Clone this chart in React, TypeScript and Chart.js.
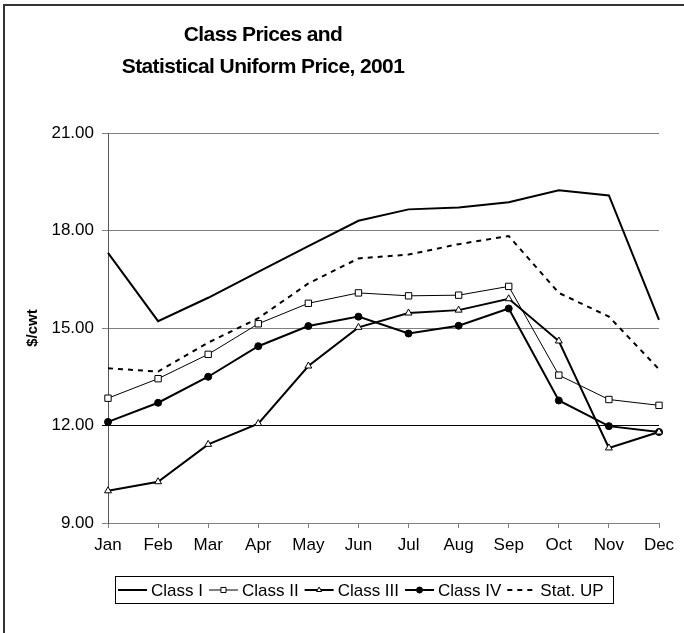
import React, { useEffect, useRef } from 'react';
import { Chart, registerables } from 'chart.js';

Chart.register(...registerables);

const FONT = '"Liberation Sans", Arial, sans-serif';

const titleLines = ['Class Prices and', 'Statistical Uniform Price, 2001'];
const yAxisTitle = '$/cwt';
const months = ['Jan', 'Feb', 'Mar', 'Apr', 'May', 'Jun', 'Jul', 'Aug', 'Sep', 'Oct', 'Nov', 'Dec'];
const yTicks = [9, 12, 15, 18, 21];

const classI = [17.31, 15.21, 15.93, 16.73, 17.52, 18.30, 18.65, 18.71, 18.87, 19.24, 19.08, 15.25];
const classII = [12.84, 13.44, 14.19, 15.13, 15.76, 16.08, 15.99, 16.01, 16.28, 13.55, 12.80, 12.62];
const classIII = [9.99, 10.27, 11.42, 12.06, 13.83, 15.02, 15.46, 15.55, 15.90, 14.60, 11.31, 11.80];
const classIV = [12.11, 12.70, 13.50, 14.44, 15.06, 15.35, 14.83, 15.07, 15.60, 12.77, 11.98, 11.80];
const statUP = [13.76, 13.66, 14.55, 15.30, 16.37, 17.14, 17.26, 17.58, 17.83, 16.08, 15.35, 13.73];

const seriesNames = ['Class I', 'Class II', 'Class III', 'Class IV', 'Stat. UP'];

function drawMarker(ctx: CanvasRenderingContext2D, style: string, x: number, y: number, r: number, fill: string) {
  ctx.save();
  ctx.setLineDash([]);
  ctx.lineWidth = 1;
  ctx.strokeStyle = '#000';
  ctx.fillStyle = fill;
  ctx.beginPath();
  if (style === 'rect') {
    const s = r * Math.SQRT1_2;
    ctx.rect(x - s, y - s, 2 * s, 2 * s);
  } else if (style === 'triangle') {
    ctx.moveTo(x, y - r);
    ctx.lineTo(x + r * 0.866, y + r * 0.5);
    ctx.lineTo(x - r * 0.866, y + r * 0.5);
    ctx.closePath();
  } else if (style === 'circle') {
    ctx.arc(x, y, r, 0, Math.PI * 2);
  }
  ctx.fill();
  ctx.stroke();
  ctx.restore();
}

const decorPlugin = {
  id: 'decor',
  afterDraw(chart: any) {
    const ctx: CanvasRenderingContext2D = chart.ctx;
    ctx.save();
    // outer frame (left and top edges visible)
    ctx.strokeStyle = '#333';
    ctx.lineWidth = 2;
    ctx.beginPath();
    ctx.moveTo(4, 700);
    ctx.lineTo(4, 5);
    ctx.lineTo(700, 5);
    ctx.stroke();

    // title
    ctx.fillStyle = '#000';
    ctx.font = 'bold 21px ' + FONT;
    (ctx as any).letterSpacing = '-0.6px';
    ctx.textAlign = 'center';
    ctx.textBaseline = 'middle';
    ctx.fillText(titleLines[0], 263, 35);
    ctx.fillText(titleLines[1], 263, 67);
    (ctx as any).letterSpacing = '0px';

    // legend
    const ly = 590;
    const bx = 115, bw = 498, by = 576, bh = 27;
    ctx.fillStyle = '#fff';
    ctx.fillRect(bx, by, bw, bh);
    ctx.strokeStyle = '#000';
    ctx.lineWidth = 1;
    ctx.strokeRect(bx + 0.5, by + 0.5, bw, bh);
    ctx.font = '17px ' + FONT;
    ctx.textAlign = 'left';
    ctx.textBaseline = 'middle';
    let x = 118;
    chart.data.datasets.forEach((ds: any) => {
      ctx.save();
      ctx.strokeStyle = '#000';
      ctx.lineWidth = ds.borderWidth;
      ctx.setLineDash(ds.borderDash || []);
      ctx.beginPath();
      ctx.moveTo(x, ly);
      ctx.lineTo(x + 29, ly);
      ctx.stroke();
      ctx.restore();
      if (ds.pointRadius > 0) {
        drawMarker(ctx, ds.pointStyle, x + 14.5, ly, ds.pointStyle === 'rect' ? 3.6 : 3, ds.pointBackgroundColor);
      }
      x += 33;
      ctx.fillStyle = '#000';
      ctx.fillText(ds.label, x, ly + 1);
      x += ctx.measureText(ds.label).width + 6;
    });
    ctx.restore();
  },
};

export default function App() {
  const ref = useRef<HTMLCanvasElement>(null);
  useEffect(() => {
    if (!ref.current) return;
    const chart = new Chart(ref.current, {
      type: 'line',
      data: {
        labels: months,
        datasets: [
          {
            label: seriesNames[0], data: classI, borderColor: '#000', borderWidth: 2,
            pointRadius: 0, pointStyle: 'circle', pointBackgroundColor: '#000', tension: 0,
          },
          {
            label: seriesNames[1], data: classII, borderColor: '#000', borderWidth: 1,
            pointRadius: 4.5, pointStyle: 'rect', pointBackgroundColor: '#fff', pointBorderColor: '#000',
            pointBorderWidth: 1, tension: 0,
          },
          {
            label: seriesNames[2], data: classIII, borderColor: '#000', borderWidth: 2,
            pointRadius: 4, pointStyle: 'triangle', pointBackgroundColor: '#fff', pointBorderColor: '#000',
            pointBorderWidth: 1, tension: 0,
          },
          {
            label: seriesNames[3], data: classIV, borderColor: '#000', borderWidth: 2,
            pointRadius: 3.5, pointStyle: 'circle', pointBackgroundColor: '#000', pointBorderColor: '#000',
            pointBorderWidth: 1, tension: 0,
          },
          {
            label: seriesNames[4], data: statUP, borderColor: '#000', borderWidth: 2, borderDash: [5, 5],
            pointRadius: 0, pointStyle: 'circle', pointBackgroundColor: '#000', tension: 0,
          },
        ],
      },
      options: {
        responsive: false,
        animation: false,
        devicePixelRatio: 1,
        layout: { padding: { top: 133, right: 25, bottom: 80, left: 0 } },
        plugins: {
          legend: { display: false },
          title: { display: false },
          tooltip: { enabled: false },
        },
        scales: {
          x: {
            type: 'category',
            offset: false,
            afterFit: (s: any) => { s.height = 30; },
            ticks: { color: '#000', font: { family: FONT, size: 17 }, padding: 7, maxRotation: 0, autoSkip: false },
            grid: { display: true, drawOnChartArea: false, drawTicks: true, tickLength: 5, color: '#808080' },
            border: { color: '#808080', width: 1 },
          },
          y: {
            min: 9,
            max: 21,
            afterBuildTicks: (s: any) => { s.ticks = yTicks.map((v) => ({ value: v })); },
            afterFit: (s: any) => { s.width = 108; },
            ticks: {
              color: '#000', font: { family: FONT, size: 17 }, padding: 8,
              callback: (v: any) => Number(v).toFixed(2),
            },
            grid: {
              color: (c: any) => (c.tick && c.tick.value === 12 ? '#000' : '#808080'),
              lineWidth: 1, drawTicks: true, tickLength: 6,
            },
            border: { color: '#555', width: 1 },
            title: {
              display: true, text: yAxisTitle, color: '#000',
              font: { family: FONT, size: 15, weight: 'bold' }, padding: { top: 24, bottom: 0 },
            },
          },
        },
      },
      plugins: [decorPlugin],
    });
    return () => chart.destroy();
  }, []);
  return (
    <div style={{ position: 'fixed', left: 0, top: 0, width: 684, height: 633, background: '#fff' }}>
      <canvas ref={ref} width={684} height={633} style={{ display: 'block' }} />
    </div>
  );
}
